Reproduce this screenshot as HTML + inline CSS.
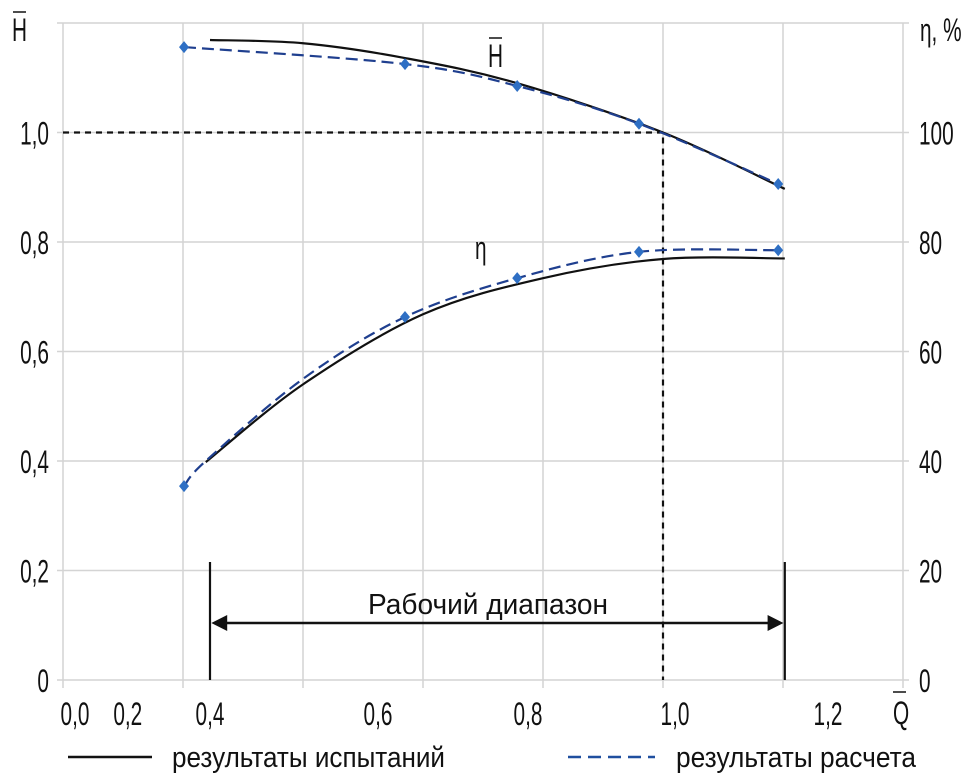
<!DOCTYPE html>
<html><head><meta charset="utf-8"><style>
html,body{margin:0;padding:0;background:#fff}
svg{display:block;font-family:"Liberation Sans",sans-serif}
</style></head><body>
<div style="position:relative;width:980px;height:783px">
<svg id="c" width="980" height="783" viewBox="0 0 980 783" style="position:absolute;left:0;top:0">
<g id="grid"></g>
<g id="series"></g>
<g id="labels"></g>
<g style="font-family:'Liberation Sans',sans-serif;font-size:32px;fill:#111">
<text x="12" y="41" transform="translate(4.2,0) scale(0.65,1)">H</text>
<line x1="13" y1="12" x2="26" y2="12" stroke="#111" stroke-width="1.5"/>
<text x="920" y="41" transform="translate(322,0) scale(0.65,1)">η, %</text>
<text x="893" y="724" transform="translate(312.6,0) scale(0.65,1)">Q</text>
<line x1="893" y1="692" x2="906" y2="692" stroke="#111" stroke-width="1.5"/>
<text x="488" y="67" transform="translate(170.8,0) scale(0.65,1)">H</text>
<line x1="489" y1="38" x2="502" y2="38" stroke="#111" stroke-width="1.5"/>
<text x="475" y="259" transform="translate(166.3,0) scale(0.65,1)">η</text>
<text x="368" y="614" textLength="240" lengthAdjust="spacingAndGlyphs" style="font-size:29px">Рабочий диапазон</text>
<line x1="68" y1="757" x2="152" y2="757" stroke="#111" stroke-width="2.5"/>
<text x="172" y="767" textLength="273" lengthAdjust="spacingAndGlyphs" style="font-size:29px">результаты испытаний</text>
<line x1="568" y1="757" x2="655" y2="757" stroke="#1f4f9f" stroke-width="2.5" stroke-dasharray="13,7"/>
<text x="676" y="767" textLength="240" lengthAdjust="spacingAndGlyphs" style="font-size:29px">результаты расчета</text>
</g>
</svg></div>
<script>
const xGridQ=[0,0.2,0.4,0.6,0.8,1.0,1.2,1.4];
const yGridH=[0,0.2,0.4,0.6,0.8,1.0,1.2];
const leftTickLabels=["0","0,2","0,4","0,6","0,8","1,0"];
const leftTickValues=[0,0.2,0.4,0.6,0.8,1.0];
const rightTickLabels=["0","20","40","60","80","100"];
const rightTickValues=[0,20,40,60,80,100];
const xTickLabels=["0,0","0,2","0,4","0,6","0,8","1,0","1,2"];
const xTickLabelQ=[0.02,0.108,0.245,0.525,0.775,1.02,1.275];
const hTestQ=[0.245,0.4,0.57,0.757,1.0,1.203];
const hTestVal=[1.169,1.163,1.136,1.09,1.0,0.897];
const hCalcQ=[0.2017,0.57,0.757,0.96,1.192];
const hCalcVal=[1.156,1.125,1.085,1.016,0.906];
const etaTestQ=[0.238,0.4,0.6,0.8,1.0,1.203];
const etaTestVal=[39.8,54,66.8,73.4,76.9,77];
const etaCalcQ=[0.2017,0.238,0.4,0.57,0.757,0.96,1.192];
const etaCalcVal=[35.4,40,55,66.3,73.4,78.2,78.5];
const etaMarkQ=[0.2017,0.57,0.757,0.96,1.192];
const etaMarkVal=[35.4,66.3,73.4,78.2,78.5];
const rangeQ=[0.245,1.203];

const NS="http://www.w3.org/2000/svg";
const X=q=>63+q*600;
const YH=h=>680-h*547.5;
const YE=e=>680-e*5.475;
function mk(p,t,a){const e=document.createElementNS(NS,t);for(const k in a)e.setAttribute(k,a[k]);p.appendChild(e);return e;}
function spline(pts){let d="M"+pts[0][0]+","+pts[0][1];for(let i=0;i<pts.length-1;i++){const p0=pts[i-1]||pts[i],p1=pts[i],p2=pts[i+1],p3=pts[i+2]||p2;const c1=[p1[0]+(p2[0]-p0[0])/6,p1[1]+(p2[1]-p0[1])/6],c2=[p2[0]-(p3[0]-p1[0])/6,p2[1]-(p3[1]-p1[1])/6];d+=` C${c1[0]},${c1[1]} ${c2[0]},${c2[1]} ${p2[0]},${p2[1]}`;}return d;}
const G=document.getElementById('grid'),S=document.getElementById('series'),L=document.getElementById('labels');
xGridQ.forEach(q=>{const l=mk(G,'line',{x1:X(q),x2:X(q),y1:YH(1.2),y2:YH(0)+8,stroke:'#d4d4d4','stroke-width':1.5});

});
yGridH.forEach(h=>{const l=mk(G,'line',{x1:X(0)-6,x2:X(1.4)+6,y1:YH(h),y2:YH(h),stroke:'#d4d4d4','stroke-width':1.5});

});
const fs='font-size:32px;fill:#111';
const sx=0.65;
function tx(t,x){t.setAttribute('transform',`translate(${x-x*sx},0) scale(${sx},1)`);}
leftTickValues.forEach((v,i)=>{const t=mk(L,'text',{x:49,y:YH(v)+12,'text-anchor':'end',style:fs});tx(t,49);t.textContent=leftTickLabels[i];

});
rightTickValues.forEach((v,i)=>{const t=mk(L,'text',{x:919,y:YE(v)+12,style:fs});tx(t,919);t.textContent=rightTickLabels[i];

});
xTickLabels.forEach((s,i)=>{const x=X(xTickLabelQ[i]);const t=mk(L,'text',{x:x,y:725,'text-anchor':'middle',style:fs});tx(t,x);t.textContent=s;

});
let r=mk(S,'path',{d:`M${X(0)},${YH(1)} H${X(1)} V${YH(0)}`,fill:'none',stroke:'#111','stroke-width':2.2,'stroke-dasharray':'6,5'});


function curve(qs,vs,yf,dash,col,name){const p=mk(S,'path',{d:spline(qs.map((q,i)=>[X(q),yf(vs[i])])),fill:'none',stroke:col,'stroke-width':2.2});if(dash)p.setAttribute('stroke-dasharray','12,6');

}
curve(hTestQ,hTestVal,YH,false,'#111','head-test-line');
curve(etaTestQ,etaTestVal,YE,false,'#111','efficiency-test-line');
curve(hCalcQ,hCalcVal,YH,true,'#1f3f8f','head-calc-line');
curve(etaCalcQ,etaCalcVal,YE,true,'#1f3f8f','efficiency-calc-line');
function markers(qs,vs,yf,name){qs.forEach((q,i)=>{const x=X(q),y=yf(vs[i]);const m=mk(S,'path',{d:`M${x},${y-6} L${x+5},${y} L${x},${y+6} L${x-5},${y} Z`,fill:'#2e6fc4'});

});}
markers(hCalcQ,hCalcVal,YH,'head-calc-marker');
markers(etaMarkQ,etaMarkVal,YE,'efficiency-calc-marker');
rangeQ.forEach(q=>{const l=mk(S,'line',{x1:X(q),x2:X(q),y1:562,y2:680,stroke:'#111','stroke-width':2.2});

});
const a=mk(S,'path',{d:`M${X(rangeQ[0])+4},623 H${X(rangeQ[1])-4} M${X(rangeQ[0])+16},617 L${X(rangeQ[0])+4},623 L${X(rangeQ[0])+16},629 Z M${X(rangeQ[1])-16},617 L${X(rangeQ[1])-4},623 L${X(rangeQ[1])-16},629 Z`,stroke:'#111','stroke-width':2.4,fill:'#111'});


</script>
</body></html>
